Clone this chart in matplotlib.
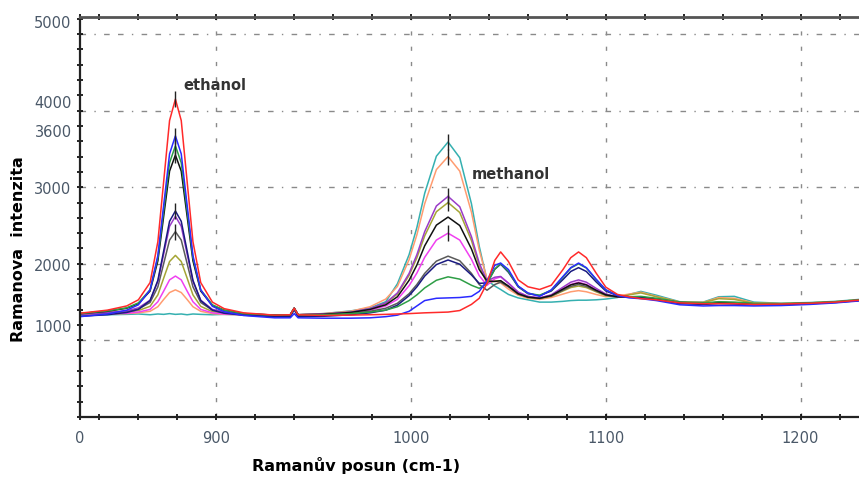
import matplotlib
matplotlib.use("Agg")
import matplotlib.pyplot as plt
from matplotlib.ticker import MultipleLocator

# Raman shift (cm-1), shared by all spectra
shift = [830, 844, 854, 860, 866, 870, 873, 876, 879, 882,
         885, 888, 892, 898, 904, 914, 930, 938, 940, 942,
         955, 969, 979, 987, 993, 999, 1003, 1007, 1013, 1019,
         1025, 1031, 1035, 1039, 1043, 1046, 1050, 1055, 1060, 1066,
         1072, 1078, 1082, 1086, 1090, 1095, 1100, 1106, 1112, 1118,
         1126, 1138, 1150, 1158, 1166, 1176, 1190, 1205, 1218, 1230]

red = [1355, 1395, 1450, 1530, 1755, 2290, 3080, 3870, 4150, 3870,
       3080, 2290, 1755, 1500, 1415, 1360, 1330, 1335, 1420, 1335,
       1325, 1330, 1335, 1340, 1345, 1350, 1355, 1360, 1365, 1370,
       1390, 1470, 1550, 1745, 2045, 2155, 2030, 1790, 1700, 1665,
       1720, 1925, 2080, 2155, 2080, 1880, 1695, 1600, 1570, 1545,
       1530, 1490, 1480, 1480, 1480, 1470, 1475, 1485, 1500, 1525]

blue = [1310, 1345, 1395, 1465, 1660, 2110, 2770, 3435, 3670, 3435,
        2770, 2110, 1660, 1445, 1375, 1325, 1295, 1295, 1350, 1295,
        1290, 1290, 1295, 1310, 1330, 1380, 1450, 1520, 1550, 1555,
        1560, 1575, 1640, 1780, 1980, 2010, 1925, 1710, 1620, 1575,
        1660, 1835, 1950, 2010, 1950, 1800, 1660, 1585, 1555, 1545,
        1520, 1465, 1450, 1455, 1455, 1450, 1455, 1470, 1490, 1515]

green = [1350, 1385, 1425, 1490, 1660, 2080, 2700, 3320, 3540, 3320,
         2700, 2080, 1660, 1465, 1395, 1350, 1330, 1335, 1420, 1335,
         1335, 1350, 1370, 1395, 1440, 1520, 1595, 1685, 1785, 1830,
         1800, 1720, 1680, 1740, 1930, 2005, 1900, 1705, 1615, 1590,
         1655, 1825, 1945, 2000, 1945, 1795, 1660, 1590, 1570, 1575,
         1550, 1500, 1490, 1505, 1500, 1485, 1480, 1490, 1505, 1530]

black = [1350, 1380, 1420, 1480, 1645, 2040, 2625, 3210, 3420, 3210,
         2625, 2040, 1645, 1455, 1395, 1350, 1330, 1335, 1420, 1335,
         1340, 1365, 1405, 1465, 1570, 1785, 1985, 2235, 2505, 2610,
         2500, 2195, 1925, 1775, 1770, 1780, 1710, 1610, 1565, 1550,
         1585, 1670, 1725, 1750, 1725, 1655, 1595, 1570, 1565, 1565,
         1540, 1495, 1485, 1495, 1490, 1475, 1475, 1485, 1500, 1525]

navy = [1315, 1335, 1365, 1405, 1520, 1785, 2170, 2555, 2690, 2555,
        2170, 1785, 1520, 1395, 1355, 1330, 1310, 1310, 1400, 1310,
        1315, 1335, 1360, 1395, 1460, 1585, 1700, 1840, 1990, 2050,
        1995, 1855, 1745, 1750, 1930, 1995, 1890, 1700, 1610, 1585,
        1645, 1795, 1900, 1950, 1900, 1765, 1645, 1585, 1570, 1555,
        1530, 1480, 1470, 1480, 1475, 1465, 1465, 1480, 1495, 1520]

purple = [1345, 1365, 1385, 1425, 1525, 1770, 2130, 2490, 2620, 2490,
          2130, 1770, 1525, 1405, 1370, 1345, 1330, 1335, 1420, 1335,
          1345, 1370, 1415, 1490, 1620, 1875, 2120, 2420, 2755, 2880,
          2745, 2355, 2010, 1775, 1825, 1835, 1745, 1630, 1575, 1555,
          1595, 1695, 1760, 1790, 1760, 1680, 1605, 1570, 1565, 1560,
          1535, 1490, 1480, 1490, 1485, 1470, 1470, 1485, 1500, 1525]

gray = [1345, 1360, 1380, 1410, 1495, 1700, 2005, 2310, 2420, 2310,
        2005, 1700, 1495, 1395, 1365, 1340, 1330, 1335, 1420, 1335,
        1335, 1355, 1380, 1420, 1485, 1610, 1730, 1875, 2035, 2100,
        2040, 1875, 1730, 1655, 1730, 1760, 1700, 1605, 1565, 1550,
        1580, 1655, 1705, 1730, 1705, 1645, 1590, 1565, 1565, 1565,
        1540, 1495, 1485, 1495, 1490, 1475, 1475, 1485, 1500, 1525]

olive = [1345, 1355, 1365, 1390, 1445, 1595, 1815, 2030, 2110, 2030,
         1815, 1595, 1445, 1375, 1355, 1340, 1330, 1335, 1420, 1335,
         1345, 1370, 1410, 1485, 1605, 1850, 2080, 2365, 2680, 2800,
         2670, 2305, 1975, 1745, 1775, 1775, 1705, 1605, 1560, 1545,
         1575, 1645, 1690, 1710, 1690, 1635, 1585, 1565, 1595, 1620,
         1570, 1500, 1495, 1545, 1535, 1485, 1480, 1490, 1505, 1530]

magenta = [1345, 1350, 1355, 1370, 1405, 1505, 1645, 1790, 1840, 1790,
           1645, 1505, 1405, 1360, 1345, 1335, 1330, 1335, 1420, 1335,
           1340, 1360, 1395, 1450, 1535, 1715, 1880, 2085, 2310, 2400,
           2310, 2060, 1845, 1720, 1805, 1830, 1750, 1630, 1575, 1555,
           1590, 1675, 1730, 1760, 1730, 1660, 1600, 1570, 1565, 1565,
           1540, 1495, 1485, 1495, 1490, 1475, 1475, 1485, 1500, 1525]

orange = [1340, 1345, 1350, 1360, 1380, 1440, 1535, 1625, 1660, 1625,
          1535, 1440, 1380, 1350, 1340, 1335, 1330, 1335, 1420, 1335,
          1350, 1380, 1440, 1540, 1705, 2055, 2380, 2785, 3230, 3400,
          3210, 2675, 2180, 1800, 1775, 1750, 1670, 1590, 1550, 1535,
          1560, 1605, 1635, 1650, 1635, 1600, 1570, 1580, 1605, 1630,
          1575, 1500, 1495, 1560, 1550, 1490, 1480, 1490, 1505, 1530]

cyan = [1335, 1335, 1340, 1345, 1335, 1345, 1340, 1350, 1340, 1345,
        1335, 1345, 1340, 1335, 1340, 1335, 1330, 1335, 1420, 1335,
        1350, 1385, 1425, 1505, 1740, 2120, 2475, 2920, 3405, 3590,
        3385, 2785, 2230, 1785, 1710, 1665, 1600, 1555, 1530, 1500,
        1500, 1510, 1520, 1525, 1525, 1530, 1540, 1560, 1600, 1640,
        1590, 1505, 1500, 1570, 1575, 1500, 1485, 1495, 1510, 1535]

# drawn back to front
series = [
    (cyan, "#35b0b0"),
    (orange, "#ff9c70"),
    (olive, "#a5a535"),
    (magenta, "#f040f0"),
    (gray, "#5a5a5a"),
    (purple, "#9a3cc8"),
    (black, "#111111"),
    (navy, "#1a1a80"),
    (green, "#2e9e46"),
    (blue, "#2a2aff"),
    (red, "#ff2a2a"),
]

ytick_pos = [5157, 4112, 3734, 2990, 1984, 1188]
ytick_lab = ["5000", "4000", "3600", "3000", "2000", "1000"]
xtick_pos = [830, 900, 1000, 1100, 1200]
xtick_lab = ["0", "900", "1000", "1100", "1200"]
grid_y = [1000, 2000, 3000, 4000, 5000]
grid_x = [900, 1000, 1100, 1200]

fig = plt.figure(figsize=(8.59, 4.78), dpi=100)
ax = fig.add_axes([0.0931, 0.1276, 0.9069, 0.8368])

for yy in grid_y:
    ax.axhline(yy, color="#8a8a8a", lw=1.0, dashes=(4, 6, 1, 6, 4, 6), zorder=0)
for xx in grid_x:
    ax.axvline(xx, color="#8a8a8a", lw=1.0, dashes=(3, 8), zorder=0)

for ys, c in series:
    ax.plot(shift, ys, color=c, lw=1.1)
    i = ys.index(max(ys))
    ax.plot(shift[i], ys[i], marker="|", color="#222222", ms=11, mew=1.0)

ax.text(883, 4334, "ethanol", fontsize=10.5, fontweight="bold", color="#333333", va="center")
ax.text(1031, 3172, "methanol", fontsize=10.5, fontweight="bold", color="#333333", va="center")

ax.set_xlim(830, 1230)
ax.set_ylim(0, 5222)

ax.set_xticks(xtick_pos)
ax.set_xticklabels(xtick_lab)
ax.set_yticks(ytick_pos)
ax.set_yticklabels(ytick_lab)
ax.xaxis.set_minor_locator(MultipleLocator(20))
ax.yaxis.set_minor_locator(MultipleLocator(200))
ax.tick_params(axis="x", which="both", direction="inout", length=4, width=1.2,
               top=True, labelsize=10.5, labelcolor="#4a5868", pad=8)
ax.tick_params(axis="y", which="major", length=0, labelsize=10.5, labelcolor="#4a5868", pad=6)
ax.tick_params(axis="y", which="minor", direction="inout", length=4, width=1.2)

for s in ["left", "bottom"]:
    ax.spines[s].set_linewidth(1.6)
    ax.spines[s].set_color("#222222")
ax.spines["top"].set_linewidth(2.0)
ax.spines["top"].set_color("#555555")
ax.spines["right"].set_visible(False)

ax.set_xlabel("Ramanův posun (cm-1)", fontsize=11.5, fontweight="bold")
ax.xaxis.set_label_coords(0.354, -0.1)
ax.set_ylabel("Ramanova  intenzita", fontsize=11.5, fontweight="bold")
ax.yaxis.set_label_coords(-0.069, 0.42)

fig.savefig("out.png", dpi=100)
